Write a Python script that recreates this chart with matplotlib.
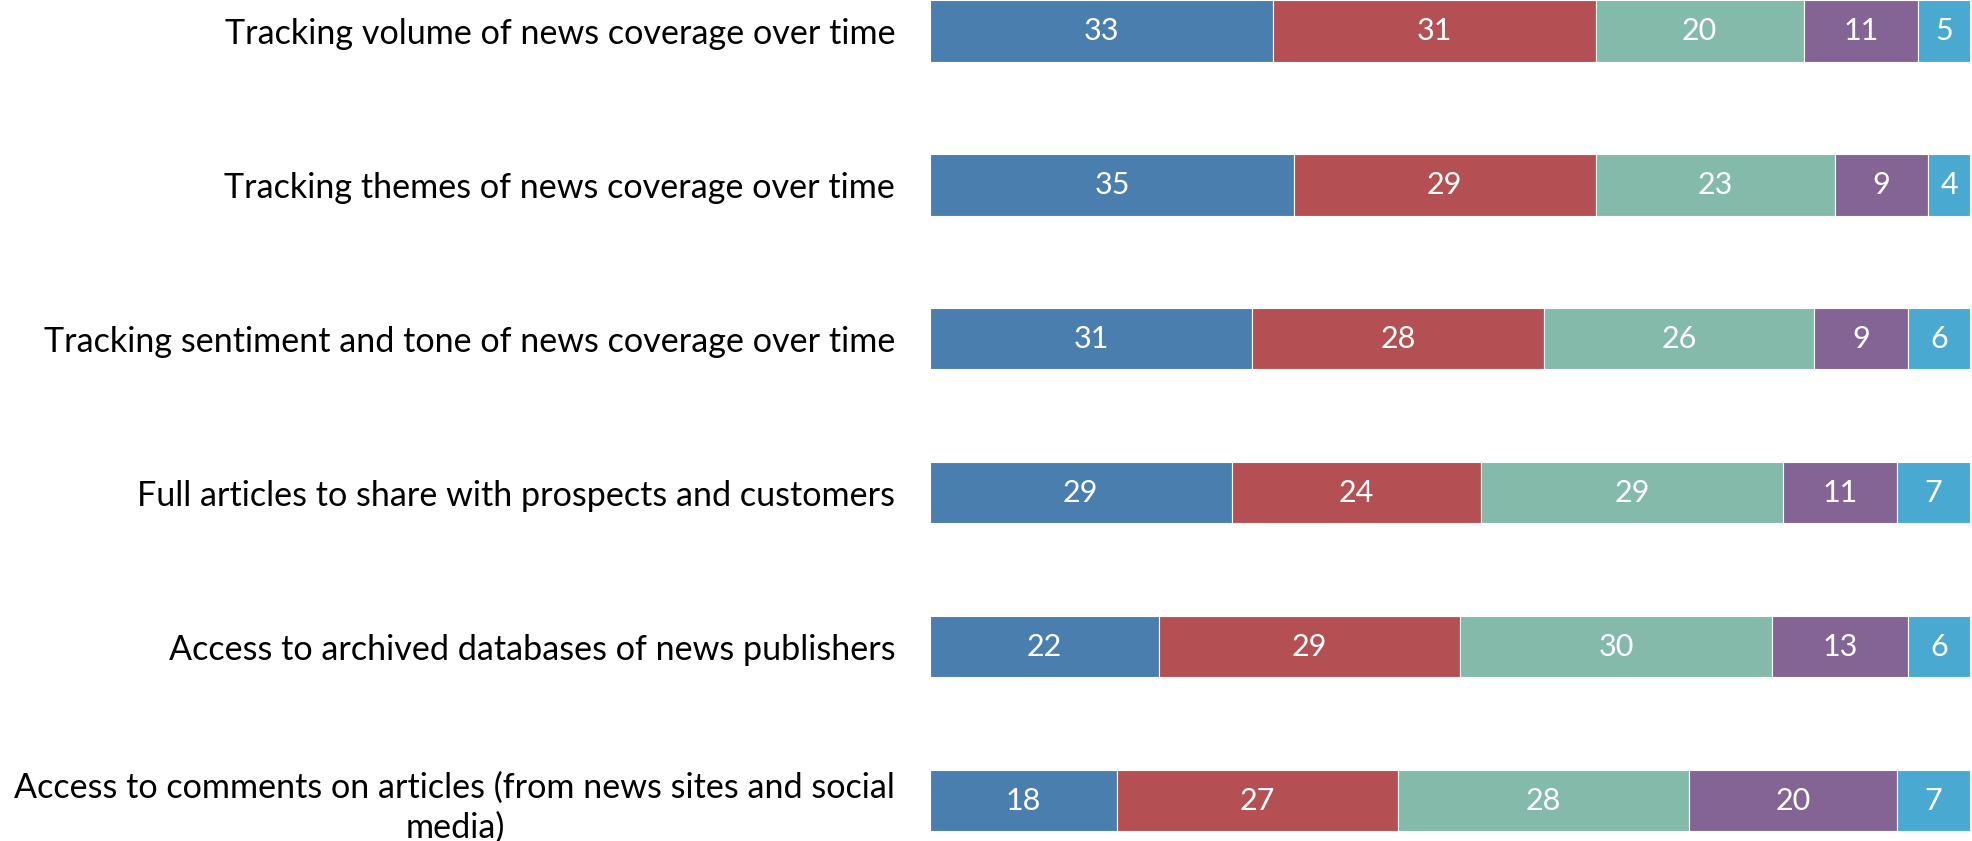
import matplotlib
matplotlib.use('Agg')
import matplotlib.pyplot as plt
import numpy as np

plt.rcParams['font.family'] = ['Lato', 'DejaVu Sans']

categories = [
    'Tracking volume of news coverage over time',
    'Tracking themes of news coverage over time',
    'Tracking sentiment and tone of news coverage over time',
    'Full articles to share with prospects and customers',
    'Access to archived databases of news publishers',
    'Access to comments on articles (from news sites and social\nmedia)',
]
seg1 = [33, 35, 31, 29, 22, 18]
seg2 = [31, 29, 28, 24, 29, 27]
seg3 = [20, 23, 26, 29, 30, 28]
seg4 = [11, 9, 9, 11, 13, 20]
seg5 = [5, 4, 6, 7, 6, 7]

series = [seg1, seg2, seg3, seg4, seg5]
colors = ['#4A7EAF', '#B45053', '#84BAA9', '#846494', '#4AA9D0']

fig = plt.figure(figsize=(19.72, 8.41), dpi=100)
ax = fig.add_axes([0.4716, 0.0115, 0.5274, 0.9885])

y = np.arange(len(categories))
left = np.zeros(len(categories))
for vals, col in zip(series, colors):
    vals = np.array(vals, dtype=float)
    bars = ax.barh(y, vals, left=left, height=0.4, color=col,
                   edgecolor='white', linewidth=0.8)
    for b, v in zip(bars, vals):
        ax.text(b.get_x() + b.get_width() / 2, b.get_y() + b.get_height() / 2,
                f'{int(v)}', ha='center', va='center', color='white', fontsize=22)
    left += vals

ax.set_xlim(0, 100)
ax.set_ylim(5.2, -0.2)
ax.set_yticks(y)
ax.set_yticklabels(categories, fontsize=24.6, multialignment='center',
                   linespacing=1.3)
ax.tick_params(axis='y', length=0, pad=25)
ax.set_xticks([])
for s in ax.spines.values():
    s.set_visible(False)

fig.savefig('out.png', dpi=100)
